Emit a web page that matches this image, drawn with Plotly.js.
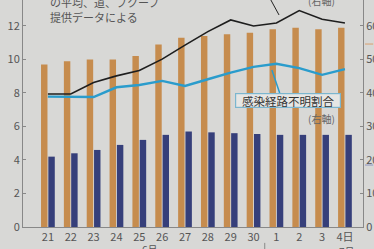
<!DOCTYPE html>
<html><head><meta charset="utf-8">
<script src="https://cdn.plot.ly/plotly-3.0.1.min.js"></script>
<style>html,body{margin:0;padding:0;background:#d8d8d6;}#c{width:374px;height:249px;}</style>
</head><body><div id="c"></div>
<script>
const categories = ['21','22','23','24','25','26','27','28','29','30','1','2','3','4日'];
const orangeBars = [9.7, 9.9, 10.0, 10.0, 10.2, 10.9, 11.3, 11.4, 11.5, 11.6, 11.8, 11.9, 11.8, 11.9];
const navyBars = [4.2, 4.4, 4.6, 4.9, 5.2, 5.5, 5.7, 5.65, 5.6, 5.55, 5.5, 5.5, 5.5, 5.5];
const blackLine = [39.7, 39.7, 43.1, 45.1, 46.7, 50.1, 54.3, 58.3, 61.8, 60.0, 60.9, 64.6, 62.0, 60.9];
const unknownRatio = [38.9, 38.9, 38.8, 41.7, 42.4, 43.6, 42.1, 44.1, 46.1, 47.8, 48.7, 47.4, 45.4, 47.1];
const leftTicks = [0, 2, 4, 6, 8, 10, 12];
const rightTicks = [0, 10, 20, 30, 40, 50, 60];
const noteLine1 = 'の平均、道、ブクーブ';
const noteLine2 = '提供データによる';
const unknownLabel = '感染経路不明割合';
const rightAxisNote = '(右軸)';

const F = '"Noto Sans CJK JP", "Noto Sans", sans-serif';
const bg = '#d8d8d6';
const traces = [
  {type:'bar', x:categories, y:orangeBars, marker:{color:'#c68c4e'}, yaxis:'y', hoverinfo:'skip'},
  {type:'bar', x:categories, y:navyBars, marker:{color:'#363f7a'}, yaxis:'y', hoverinfo:'skip'},
  {type:'scatter', mode:'lines', x:categories, y:blackLine, yaxis:'y2', line:{color:'#1e1e1e', width:1.6}, hoverinfo:'skip'},
  {type:'scatter', mode:'lines', x:categories, y:unknownRatio, yaxis:'y2', line:{color:'#2a9ccc', width:2.4}, hoverinfo:'skip'}
];
const layout = {
  width:374, height:249,
  margin:{l:23, r:11, t:0, b:22},
  paper_bgcolor:bg, plot_bgcolor:bg,
  showlegend:false,
  barmode:'group', bargap:0.36, bargroupgap:0.12,
  font:{family:F, color:'#555', size:11},
  xaxis:{type:'category', range:[-1.09, 13.79], showline:true, linecolor:'#888', linewidth:1,
         ticks:'', showgrid:false, zeroline:false, tickfont:{size:11, color:'#555'}, fixedrange:true},
  yaxis:{range:[0, 13.55], tickvals:leftTicks, showline:true, linecolor:'#888', linewidth:1,
         ticks:'inside', ticklen:3, tickcolor:'#888', showgrid:false, zeroline:false,
         tickfont:{size:11, color:'#555'}},
  yaxis2:{range:[0, 67.75], tickvals:rightTicks, overlaying:'y', side:'right', showline:true,
          linecolor:'#888', linewidth:1, ticks:'inside', ticklen:3, tickcolor:'#888',
          showgrid:false, zeroline:false, tickfont:{size:11, color:'#555'}},
  annotations:[
    {xref:'paper', yref:'paper', x:0.0735, y:0.99, xanchor:'left', yanchor:'middle', text:noteLine1, showarrow:false, font:{size:11, color:'#555'}},
    {xref:'paper', yref:'paper', x:0.0735, y:0.925, xanchor:'left', yanchor:'middle', text:noteLine2, showarrow:false, font:{size:11, color:'#555'}},
    {xref:'paper', yref:'paper', x:0.778, y:0.559, xanchor:'center', yanchor:'middle', text:unknownLabel, showarrow:false,
     font:{size:11.5, color:'#333'}, bgcolor:'#e6e6e4', bordercolor:'#7bb6cf', borderwidth:1.2, borderpad:0, width:104, height:13},
    {xref:'paper', yref:'paper', x:0.879, y:0.48, xanchor:'center', yanchor:'middle', text:rightAxisNote, showarrow:false, font:{size:10, color:'#666'}},
    {xref:'paper', yref:'paper', x:0.879, y:1.0, xanchor:'center', yanchor:'middle', text:rightAxisNote, showarrow:false, font:{size:10, color:'#666'}},
    {xref:'paper', yref:'paper', x:0.374, y:-0.1, xanchor:'center', yanchor:'middle', text:'6月', showarrow:false, font:{size:10, color:'#555'}},
    {xref:'paper', yref:'paper', x:0.953, y:-0.108, xanchor:'center', yanchor:'middle', text:'7月', showarrow:false, font:{size:10, color:'#555'}}
  ],
  shapes:[
    {type:'line', xref:'paper', yref:'paper', x0:0.732, y0:0.692, x1:0.755, y1:0.59, line:{color:'#2a9ccc', width:1.5}},
    {type:'line', xref:'paper', yref:'paper', x0:0.729, y0:1.0, x1:0.753, y1:0.934, line:{color:'#222', width:1}},
    {type:'line', xref:'paper', yref:'paper', x0:0.711, y0:-0.07, x1:0.711, y1:-0.1, line:{color:'#888', width:1}},
    {type:'line', xref:'paper', yref:'paper', x0:1.006, y0:0.806, x1:1.03, y1:0.806, line:{color:'#d9a070', width:1}},
    {type:'line', xref:'paper', yref:'paper', x0:1.006, y0:0.273, x1:1.03, y1:0.273, line:{color:'#8e95c0', width:1}}
  ]
};
Plotly.newPlot('c', traces, layout, {displayModeBar:false, staticPlot:true});
</script></body></html>
